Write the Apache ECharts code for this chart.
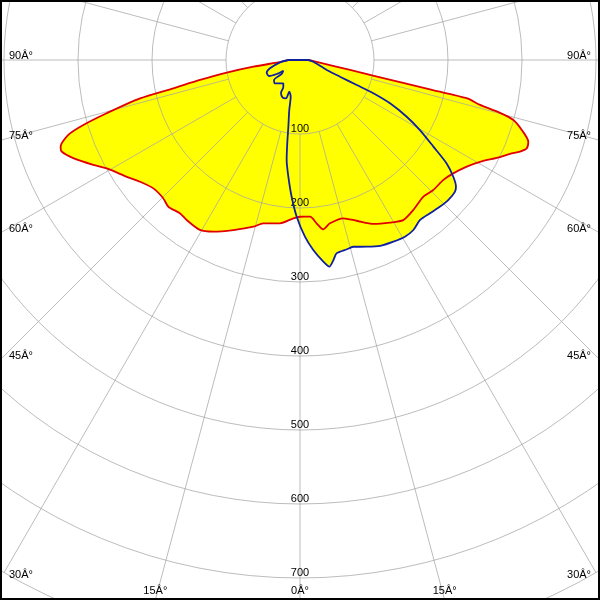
<!DOCTYPE html>
<html><head><meta charset="utf-8">
<script src="https://cdn.jsdelivr.net/npm/echarts@6/dist/echarts.min.js"></script>
<style>html,body{margin:0;padding:0;background:#fff}#c{width:600px;height:600px}</style>
</head><body><div id="c"></div>
<script>
// ---- data (angles in degrees from nadir; negative = left half) ----
const radiusTicks = [100, 200, 300, 400, 500, 600, 700, 800];
const edgeAngles = [90, 75, 60, 45, 30, 15, 0];
const edgeLabels = ['90Â°', '75Â°', '60Â°', '45Â°', '30Â°', '15Â°', '0Â°'];

const redAngles = [-90, -84.7, -81.8, -80.2, -78.7, -77.4, -76.5, -74.6, -73.3, -72.1, -70.1, -69, -66.6, -63.1, -60.7, -56, -52.7, -48.8, -44.7, -41.9, -38.1, -35.3, -30.5, -26.8, -21.4, -15.6, -12.7, -7.0, -2.4, 0, 3.7, 5.8, 7.8, 10.4, 15.3, 19.4, 24.1, 29, 32.8, 37.1, 42, 45.7, 50.1, 53.5, 57.4, 60.5, 64.1, 65.9, 67.4, 68.7, 70.3, 72.5, 74.3, 75.2, 76, 77.1, 77.2, 77.5, 78.7, 86.6, 90];
const redValues = [15.8, 24.8, 63.7, 100.5, 137.8, 175.4, 222.3, 271, 305.7, 329, 344, 345, 333.9, 313.3, 299.4, 282.3, 271.6, 263.4, 262.8, 266.4, 263.1, 265, 266.5, 259.9, 246.8, 233.9, 226.2, 222.3, 214.1, 211.8, 212.2, 221.8, 231, 224.4, 221.8, 230.3, 242.7, 251.2, 257.4, 254, 248.8, 251.6, 252.6, 257.6, 267.5, 279.4, 300.6, 310.9, 322.1, 328.8, 327.7, 314.2, 299.5, 279.6, 250.7, 231.1, 184.3, 138.4, 68.9, 15.8, 11.2];

const blueAngles = [-90, -83.4, -74.5, -69.1, -62.7, -59, -57.4, -52.6, -52.4, -47, -35.6, -31.5, -30.2, -24.7, -20.1, -18.6, -14.2, -12.1, -9.9, -8.7, -7.6, -5.7, -3.5, -1.2, 1.6, 4.0, 6.6, 8.1, 9.5, 10.7, 13.9, 15.9, 19.7, 23.3, 27.2, 30.7, 33.7, 36.9, 40.3, 43.7, 46.6, 49.6, 50.9, 52.7, 54.8, 57, 59.7, 62, 64.3, 65.6, 66.2, 67.3, 69.5, 82.7, 90];
const blueValues = [15.8, 27.2, 42.1, 48.2, 47.1, 36.7, 26.8, 31.1, 44.3, 46.2, 38.7, 43.2, 51.1, 56, 55.1, 45.2, 51.2, 69.1, 91.5, 113.9, 136.3, 158.5, 185.1, 211.8, 238.9, 257.4, 274.4, 282.1, 274, 265.9, 263.5, 262.4, 268, 273.6, 276, 277.7, 276.1, 270.3, 271.6, 274, 275.6, 274.9, 271.6, 260.4, 242.5, 214.9, 187.7, 163.3, 135, 108.8, 83.8, 58.6, 38.5, 18.1, 11.2];

// ---- layout ----
const W = 600, H = 600, CX = 300, CY = 60, R = 592, RMAX = 800, RINNER = 100;
const FONT = 'Liberation Sans';

function toPolar(angles, values) {
  const d = angles.map((a, i) => [values[i], a < 0 ? 360 + a : a]);
  d.push(d[0]);
  return d;
}
const redData = toPolar(redAngles, redValues);
const blueData = toPolar(blueAngles, blueValues);

function edgePoint(theta, side) {
  const s = Math.sin(theta * Math.PI / 180), c = Math.cos(theta * Math.PI / 180);
  const tx = s > 1e-9 ? (side < 0 ? CX : W - CX) / s : Infinity;
  const ty = c > 1e-9 ? (H - CY) / c : Infinity;
  if (tx <= ty) return { edge: 'side', x: CX + side * tx * s, y: CY + tx * c };
  return { edge: 'bottom', x: CX + side * ty * s, y: H };
}
const graphics = [];
edgeAngles.forEach((t, i) => {
  const sides = t === 0 ? [1] : [-1, 1];
  sides.forEach(side => {
    const p = edgePoint(t, side);
    let x, y, align;
    if (p.edge === 'side') { x = side < 0 ? 9 : 591; y = p.y + 1; align = side < 0 ? 'left' : 'right'; }
    else { x = p.x; y = 596; align = 'center'; }
    graphics.push({ type: 'text', x, y, z: 100,
      style: { text: edgeLabels[i], fill: '#000', fontSize: 11, fontFamily: FONT, align, verticalAlign: 'bottom' } });
  });
});
graphics.push({ type: 'rect', z: 100, shape: { x: 1, y: 1, width: W - 2, height: H - 2 },
  style: { fill: 'none', stroke: '#000', lineWidth: 2 } });

const gridColor = 'rgba(165,165,165,0.75)';
const angleCommon = { type: 'value', min: 0, max: 360, startAngle: 270, clockwise: false };

const chart = echarts.init(document.getElementById('c'), null, { renderer: 'canvas' });
chart.setOption({
  animation: false,
  backgroundColor: '#fff',
  polar: [
    { center: [CX, CY], radius: [0, R] },
    { center: [CX, CY], radius: [R * RINNER / RMAX, R] }
  ],
  angleAxis: [
    Object.assign({ polarIndex: 0, z: 2, axisLine: { show: false }, axisTick: { show: false }, axisLabel: { show: false }, splitLine: { show: false } }, angleCommon),
    Object.assign({ polarIndex: 1, z: 2, interval: 15, axisLine: { show: false }, axisTick: { show: false }, axisLabel: { show: false },
      splitLine: { show: true, lineStyle: { color: gridColor, width: 1 } } }, angleCommon)
  ],
  radiusAxis: [
    { polarIndex: 0, z: 2, type: 'value', min: 0, max: RMAX, interval: 100,
      axisLine: { show: false }, axisTick: { show: false },
      axisLabel: { show: true, margin: 0, align: 'center', verticalAlign: 'bottom', color: '#000', fontSize: 11, fontFamily: FONT,
        showMinLabel: false, formatter: v => radiusTicks.indexOf(v) >= 0 && v < RMAX ? String(v) : '' },
      splitLine: { show: true, lineStyle: { color: gridColor, width: 1 } } },
    { polarIndex: 1, type: 'value', min: RINNER, max: RMAX, show: false }
  ],
  graphic: graphics,
  series: [
    { type: 'line', coordinateSystem: 'polar', polarIndex: 0, data: redData, symbol: 'none', smooth: 0.25, z: 1,
      lineStyle: { width: 0, opacity: 0 }, areaStyle: { color: '#ffff00', opacity: 1 } },
    { type: 'line', coordinateSystem: 'polar', polarIndex: 0, data: blueData, symbol: 'none', smooth: 0.25, z: 1,
      lineStyle: { width: 0, opacity: 0 }, areaStyle: { color: '#ffff00', opacity: 1 } },
    { type: 'line', coordinateSystem: 'polar', polarIndex: 0, data: redData, symbol: 'none', smooth: 0.25, z: 3,
      lineStyle: { color: '#e00000', width: 1.8 } },
    { type: 'line', coordinateSystem: 'polar', polarIndex: 0, data: blueData, symbol: 'none', smooth: 0.25, z: 4,
      lineStyle: { color: '#1020a0', width: 1.8 } }
  ]
});
</script></body></html>
